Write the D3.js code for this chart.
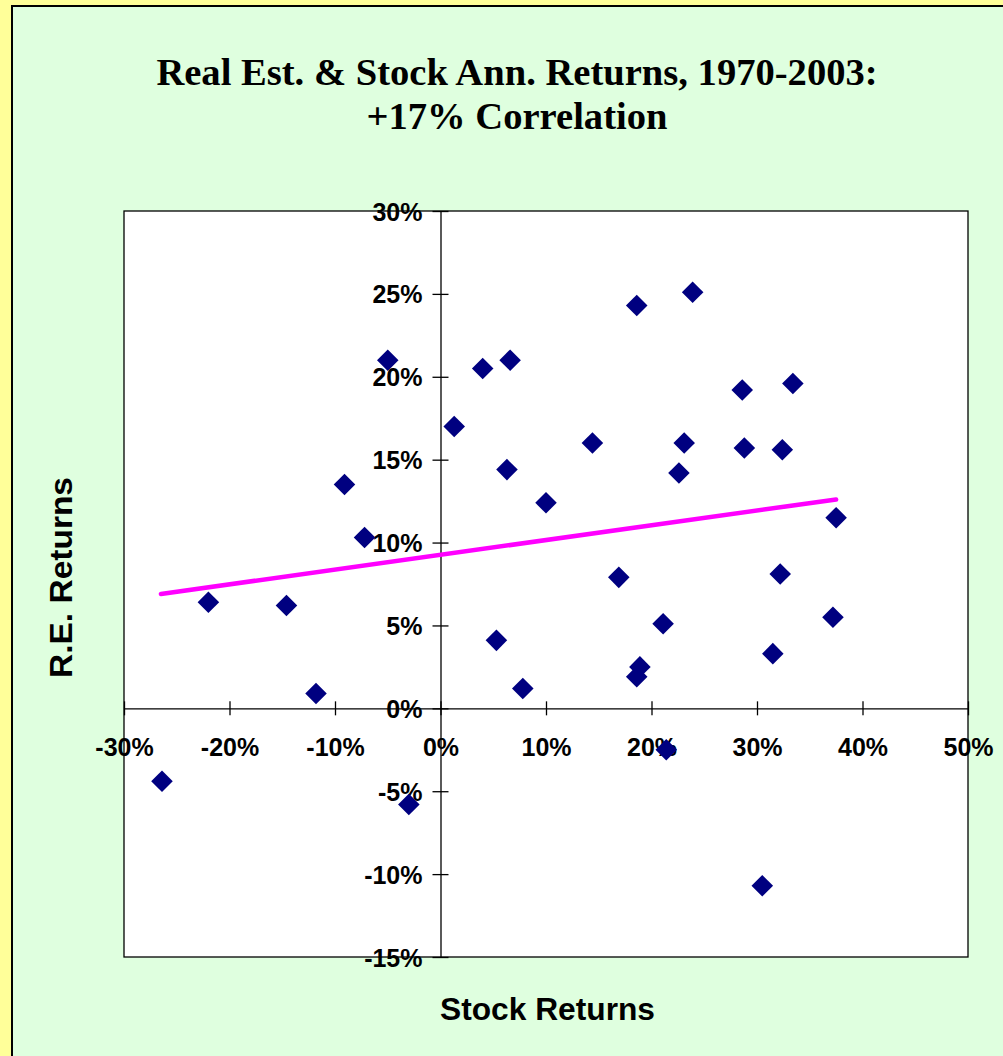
<!DOCTYPE html>
<html>
<head>
<meta charset="utf-8">
<script src="https://cdn.jsdelivr.net/npm/d3@7"></script>
<style>
  body { margin: 0; background: #ffff99; }
  svg { display: block; }
</style>
</head>
<body>
<div id="chart"></div>
<script>
// stock returns (%) and real estate returns (%), 1970-2003
var stockReturns = [-26.4, -22.0, -14.6, -11.8, -9.1, -7.2, -5.0, -3.0, 1.3, 4.0, 5.3, 6.3, 6.6, 7.8, 10.0, 14.4, 16.9,
    18.6, 18.6, 18.9, 21.1, 21.4, 22.6, 23.1, 23.9, 28.6, 28.8, 30.5, 31.5, 32.2, 32.4, 33.4, 37.2, 37.5];
var reReturns = [-4.4, 6.4, 6.2, 0.9, 13.5, 10.3, 21.0, -5.8, 17.0, 20.5, 4.1, 14.4, 21.0, 1.2, 12.4, 16.0, 7.9,
    24.3, 1.9, 2.5, 5.1, -2.5, 14.2, 16.0, 25.1, 19.2, 15.7, -10.7, 3.3, 8.1, 15.6, 19.6, 5.5, 11.5];
// linear trend line as drawn on the chart (end points)
var trendX = [-26.5, 37.5];
var trendY = [6.9, 12.6];
var xTicks = [-30, -20, -10, 0, 10, 20, 30, 40, 50];
var yTicks = [-15, -10, -5, 0, 5, 10, 15, 20, 25, 30];
var titleLines = ['Real Est. & Stock Ann. Returns, 1970-2003:', '+17% Correlation'];

var width = 1003, height = 1056;
var plot = { left: 124, right: 968, top: 211, bottom: 957 };

var svg = d3.select('#chart').append('svg').attr('width', width).attr('height', height);

// frame
svg.append('rect').attr('x', 0).attr('y', 0).attr('width', width).attr('height', height).attr('fill', '#ffff99');
svg.append('rect').attr('x', 12).attr('y', 6).attr('width', width).attr('height', height)
    .attr('fill', '#dfffdf').attr('stroke', '#000').attr('stroke-width', 2);

// title
svg.selectAll('text.title').data(titleLines).enter().append('text')
    .attr('class', 'title')
    .attr('x', 517).attr('y', function(d, i) { return 85 + i * 44; })
    .attr('text-anchor', 'middle')
    .style('font-family', '"Liberation Serif", "Times New Roman", serif')
    .style('font-weight', 'bold').style('font-size', '38.6px')
    .text(function(d) { return d; });

var x = d3.scaleLinear().domain([-30, 50]).range([plot.left, plot.right]);
var y = d3.scaleLinear().domain([-15, 30]).range([plot.bottom, plot.top]);

svg.append('rect').attr('x', plot.left).attr('y', plot.top)
    .attr('width', plot.right - plot.left).attr('height', plot.bottom - plot.top)
    .attr('fill', '#fff').attr('stroke', '#000').attr('stroke-width', 1.3);

var labelFont = '"Liberation Sans", Arial, sans-serif';

// x axis through y=0, ticks crossing
var xAxis = svg.append('g').attr('transform', 'translate(0,' + y(0) + ')')
    .call(d3.axisBottom(x).tickValues(xTicks).tickSizeInner(0).tickSizeOuter(0).tickFormat(''));
xAxis.select('.domain').attr('stroke', '#000').attr('stroke-width', 1.3);
xAxis.selectAll('.tick line').attr('y1', -7).attr('y2', 7).attr('stroke', '#000').attr('stroke-width', 1.3);
xAxis.selectAll('.tick').append('text')
    .attr('y', 48).attr('text-anchor', 'middle').attr('fill', '#000')
    .style('font-family', labelFont).style('font-weight', 'bold').style('font-size', '25px')
    .text(function(d) { return d + '%'; });

// y axis through x=0
var yAxis = svg.append('g').attr('transform', 'translate(' + x(0) + ',0)')
    .call(d3.axisLeft(y).tickValues(yTicks).tickSizeInner(0).tickSizeOuter(0).tickFormat(''));
yAxis.select('.domain').attr('stroke', '#000').attr('stroke-width', 1.3);
yAxis.selectAll('.tick line').attr('x1', -8).attr('x2', 8).attr('stroke', '#000').attr('stroke-width', 1.3);
yAxis.selectAll('.tick').append('text')
    .attr('x', -18).attr('dy', '0.36em').attr('text-anchor', 'end').attr('fill', '#000')
    .style('font-family', labelFont).style('font-weight', 'bold').style('font-size', '25px')
    .text(function(d) { return d + '%'; });

// axis titles
svg.append('text').attr('x', 547.5).attr('y', 1020).attr('text-anchor', 'middle')
    .attr('textLength', 215).attr('lengthAdjust', 'spacingAndGlyphs')
    .style('font-family', labelFont).style('font-weight', 'bold').style('font-size', '31px')
    .text('Stock Returns');
svg.append('text').attr('transform', 'translate(72,577.5) rotate(-90)').attr('text-anchor', 'middle')
    .attr('textLength', 201).attr('lengthAdjust', 'spacingAndGlyphs')
    .style('font-family', labelFont).style('font-weight', 'bold').style('font-size', '31px')
    .text('R.E. Returns');

// trend line
svg.append('line')
    .attr('x1', x(trendX[0])).attr('y1', y(trendY[0]))
    .attr('x2', x(trendX[1])).attr('y2', y(trendY[1]))
    .attr('stroke', '#ff00ff').attr('stroke-width', 4.5).attr('stroke-linecap', 'round');

// markers
var points = stockReturns.map(function(s, i) { return [s, reReturns[i]]; });
var diamond = d3.symbol().type(d3.symbolSquare).size(232);
svg.selectAll('path.pt').data(points).enter().append('path')
    .attr('class', 'pt')
    .attr('d', diamond)
    .attr('transform', function(p) { return 'translate(' + x(p[0]) + ',' + y(p[1]) + ') rotate(45)'; })
    .attr('fill', '#000080');
</script>
</body>
</html>
